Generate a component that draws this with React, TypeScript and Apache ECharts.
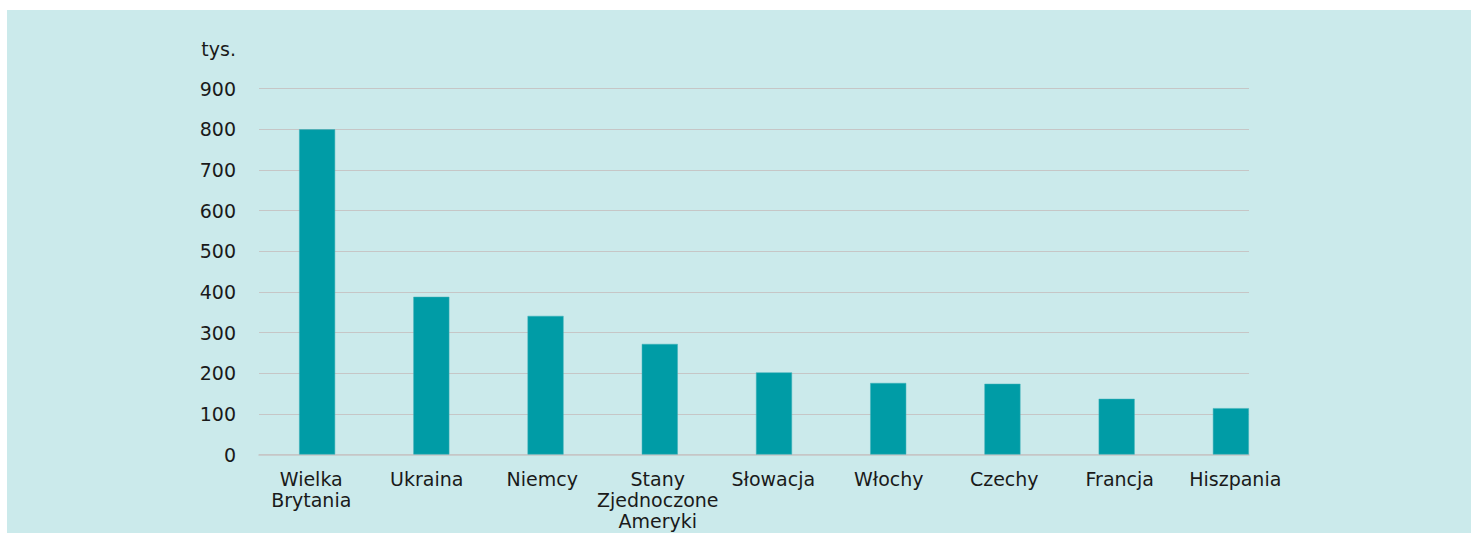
import React, { useEffect, useRef } from "react";
import * as echarts from "echarts";

const categories = [
  "Wielka\nBrytania",
  "Ukraina",
  "Niemcy",
  "Stany\nZjednoczone\nAmeryki",
  "Słowacja",
  "Włochy",
  "Czechy",
  "Francja",
  "Hiszpania",
];
const values = [800, 388, 341, 272, 202, 176, 174, 137, 114];
const yMin = 0;
const yMax = 900;
const yInterval = 100;
const unitLabel = "tys.";

const FONT = "'DejaVu Sans', sans-serif";
const TEXT = "#1a1a1a";
const GRID = "#c6c6c6";

export default function App() {
  const ref = useRef<HTMLDivElement>(null);
  useEffect(() => {
    if (!ref.current) return;
    const chart = echarts.init(ref.current, undefined, { renderer: "svg" });
    chart.setOption({
      animation: false,
      backgroundColor: "#cbeaeb",
      graphic: [
        {
          type: "text",
          right: 1464 - 229,
          top: 29,
          style: {
            text: unitLabel,
            font: `19px ${FONT}`,
            fill: TEXT,
            textAlign: "right",
          },
        },
      ],
      grid: [
        { left: 253, width: 1028, top: 78.7, height: 365.8 },
        { left: 252, width: 990, top: 78.7, height: 365.8 },
        { left: 246.5, width: 1039.5, top: 78.7, height: 365.8 },
      ],
      xAxis: [
        {
          type: "category",
          gridIndex: 0,
          data: categories,
          axisLine: { show: false },
          axisTick: { show: false },
          axisLabel: { show: false },
        },
        {
          type: "value",
          gridIndex: 1,
          min: 0,
          max: 1,
          axisLine: { show: true, onZero: false, lineStyle: { color: GRID, width: 1.5 } },
          axisTick: { show: false },
          axisLabel: { show: false },
          splitLine: { show: false },
        },
        {
          type: "category",
          gridIndex: 2,
          data: categories,
          axisLine: { show: false },
          axisTick: { show: false },
          axisLabel: {
            interval: 0,
            margin: 14,
            color: TEXT,
            fontFamily: FONT,
            fontSize: 19,
            lineHeight: 21,
            verticalAlign: "top",
          },
        },
      ],
      yAxis: [
        {
          type: "value",
          gridIndex: 0,
          min: yMin,
          max: yMax,
          interval: yInterval,
          axisLabel: { show: false },
          splitLine: { show: false },
          axisLine: { show: false },
          axisTick: { show: false },
        },
        {
          type: "value",
          gridIndex: 1,
          min: yMin,
          max: yMax,
          interval: yInterval,
          axisLine: { show: false },
          axisTick: { show: false },
          axisLabel: {
            margin: 23,
            color: TEXT,
            fontFamily: FONT,
            fontSize: 19,
          },
          splitLine: { show: true, lineStyle: { color: GRID, width: 1 } },
        },
        {
          type: "value",
          gridIndex: 2,
          min: yMin,
          max: yMax,
          interval: yInterval,
          axisLabel: { show: false },
          splitLine: { show: false },
          axisLine: { show: false },
          axisTick: { show: false },
        },
      ],
      series: [
        {
          type: "bar",
          xAxisIndex: 0,
          yAxisIndex: 0,
          data: values,
          barWidth: 36,
          itemStyle: { color: "#009ca6", borderColor: "#3fb1b8", borderWidth: 0.5 },
        },
      ],
    });
    return () => chart.dispose();
  }, []);
  return (
    <div
      ref={ref}
      style={{ position: "absolute", left: 7, top: 10, width: 1464, height: 523 }}
    />
  );
}
